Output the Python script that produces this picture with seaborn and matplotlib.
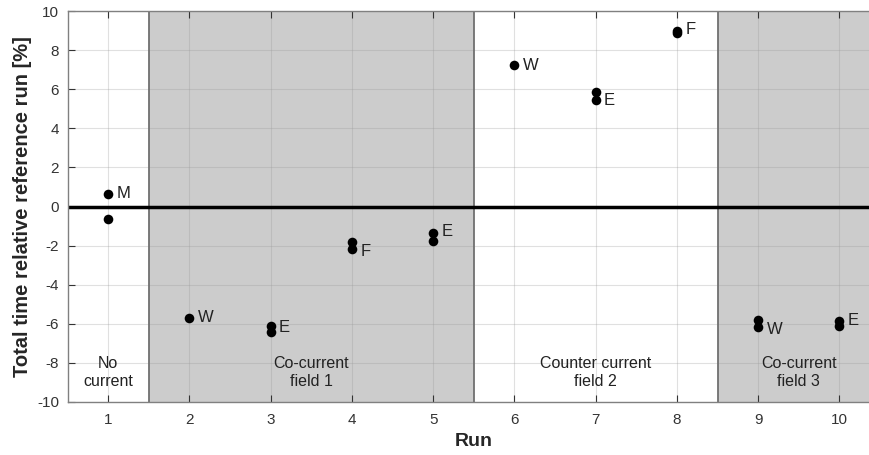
import numpy as np
import pandas as pd
import matplotlib.pyplot as plt
import seaborn as sb

# measured points, two repeats for most runs
runs = [1, 1, 2, 3, 3, 4, 4, 5, 5, 6, 7, 7, 8, 8, 9, 9, 10, 10]
rel_time = [0.65, -0.65, -5.7, -6.1, -6.4, -1.8, -2.15, -1.38, -1.75,
            7.25, 5.88, 5.47, 9.0, 8.85, -5.83, -6.17, -5.85, -6.1]

# letter labels next to each run
label_runs = [1, 2, 3, 4, 5, 6, 7, 8, 9, 10]
label_text = ['M', 'W', 'E', 'F', 'E', 'W', 'E', 'F', 'W', 'E']
label_y = [0.65, -5.7, -6.2, -2.3, -1.3, 7.2, 5.4, 9.05, -6.3, -5.85]

# current field regions
region_edges = [0.5, 1.5, 5.5, 8.5, 10.5]
region_shaded = [False, True, False, True]
region_names = ['No\ncurrent', 'Co-current\nfield 1', 'Counter current\nfield 2', 'Co-current\nfield 3']
region_text_x = [1, 3.5, 7, 9.5]

sb.set_style('white')
plt.rcParams['font.family'] = ['Liberation Sans', 'DejaVu Sans']
plt.rcParams['axes.unicode_minus'] = False

df = pd.DataFrame({'Run': runs, 'rel': rel_time})

fig = plt.figure(figsize=(8.7, 4.55), dpi=100)
ax = fig.add_axes([0.0776, 0.1165, 0.934, 0.8593])

for i in range(len(region_shaded)):
    if region_shaded[i]:
        ax.axvspan(region_edges[i], region_edges[i + 1], color='#cccccc', zorder=0, lw=0)
for e in region_edges[1:-1]:
    ax.axvline(e, color='#707070', lw=1.3, zorder=1)

ax.set_xlim(0.5, 10.5)
ax.set_ylim(-10, 10)
ax.set_xticks(range(1, 11))
ax.set_yticks(range(-10, 11, 2))
ax.grid(True, color='#999999', alpha=0.3, lw=0.8)
ax.set_axisbelow(True)
ax.axhline(0, color='black', lw=2.5, zorder=2)

sb.scatterplot(data=df, x='Run', y='rel', ax=ax, color='black', s=48,
               edgecolor='black', linewidth=0, zorder=3)

for x, t, y in zip(label_runs, label_text, label_y):
    ax.annotate(t, (x, y), xytext=(6, 0), textcoords='offset points',
                va='center', ha='left', fontsize=12, color='#222222')

for x, t in zip(region_text_x, region_names):
    ax.text(x, -8.5, t, ha='center', va='center', fontsize=11.5,
            color='#222222', linespacing=1.3)

for s in ax.spines.values():
    s.set_color('#808080')
    s.set_linewidth(1)
ax.tick_params(axis='both', direction='in', length=5, color='#333333',
               labelsize=11, labelcolor='#333333', top=True, right=True,
               bottom=True, left=True)
ax.tick_params(axis='x', pad=8)
ax.tick_params(axis='y', pad=6)
ax.set_xlabel('Run', fontsize=14, fontweight='bold', color='#262626', labelpad=4)
ax.set_ylabel('Total time relative reference run [%]', fontsize=14.5,
              fontweight='bold', color='#262626', labelpad=4)

fig.savefig('out.png', dpi=100)
